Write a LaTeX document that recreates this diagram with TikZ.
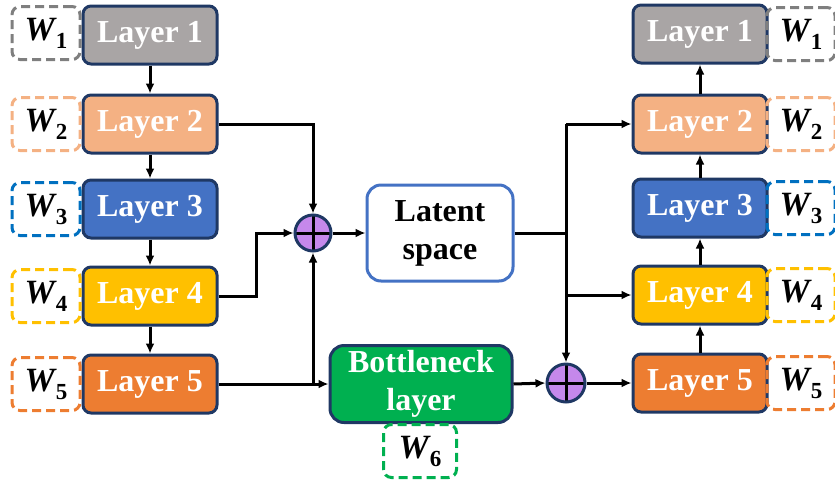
\documentclass[tikz,border=0pt]{standalone}
\usepackage{fontspec}
\setmainfont{Liberation Serif}
\usepackage{tikz}
\usetikzlibrary{shapes,arrows,arrows.meta,positioning}

\definecolor{navy}{HTML}{1F3864}
\definecolor{greyL}{HTML}{A9A5A5}
\definecolor{salmonL}{HTML}{F4B183}
\definecolor{blueL}{HTML}{4472C4}
\definecolor{goldL}{HTML}{FFC000}
\definecolor{orangeL}{HTML}{ED7D31}
\definecolor{greenL}{HTML}{00B050}
\definecolor{greyW}{HTML}{7F7F7F}
\definecolor{blueW}{HTML}{0070C0}
\definecolor{addfill}{HTML}{C588EB}

% weight label: bold italic W with a bold subscript
\newcommand{\wlab}[1]{{\bfseries\itshape W}\kern1pt\raisebox{-8pt}{\bfseries\fontsize{23}{23}\selectfont #1}}

\begin{document}
\begin{tikzpicture}[x=1pt,y=-1pt,>={Latex[length=10pt,width=9pt]},line width=3pt]
\tikzstyle{layer} = [rectangle, draw=navy, text=white, rounded corners=8pt, minimum width=134pt, minimum height=58pt, font=\fontsize{32}{38}\selectfont\bfseries]
\tikzstyle{wbox} = [rectangle, draw, dash pattern=on 9pt off 5pt, rounded corners=8pt, minimum width=68pt, minimum height=53pt, font=\fontsize{34}{38}\selectfont]
\tikzstyle{adder} = [circle, draw=navy, fill=addfill, minimum size=36pt, inner sep=0pt,
  path picture={\draw[black] (path picture bounding box.north) -- (path picture bounding box.south)
                (path picture bounding box.west) -- (path picture bounding box.east);}]
\tikzstyle{bigbox} = [rectangle, rounded corners=14pt, align=center, font=\fontsize{32}{38}\selectfont\bfseries]
\useasboundingbox (0,0) rectangle (835,480);

% encoder
\node[layer, fill=greyL]   (L1) at (150,35)  {Layer 1};
\node[layer, fill=salmonL] (L2) at (150,124) {Layer 2};
\node[layer, fill=blueL]   (L3) at (150,209) {Layer 3};
\node[layer, fill=goldL]   (L4) at (150,296) {Layer 4};
\node[layer, fill=orangeL] (L5) at (150,384) {Layer 5};
\node[wbox, draw=greyW]   (LW1) at (46,33)  {\wlab{1}};
\node[wbox, draw=salmonL] (LW2) at (46,124) {\wlab{2}};
\node[wbox, draw=blueW]   (LW3) at (46,209) {\wlab{3}};
\node[wbox, draw=goldL]   (LW4) at (46,296) {\wlab{4}};
\node[wbox, draw=orangeL] (LW5) at (46,384) {\wlab{5}};

% middle
\node[adder] (add1) at (313,233) {};
\node[bigbox, draw=blueL, fill=white, minimum width=146pt, minimum height=96pt] (lat) at (440,233) {Latent\\space};
\node[bigbox, draw=navy, fill=greenL, text=white, minimum width=182pt, minimum height=77pt] (bn) at (421,384) {Bottleneck\\layer};
\node[wbox, draw=greenL, minimum width=73pt] (W6) at (420,451) {\wlab{6}};
\node[adder, minimum size=38pt] (add2) at (566,383) {};

% decoder
\node[layer, fill=greyL]   (R1) at (700,34)  {Layer 1};
\node[layer, fill=salmonL] (R2) at (700,124) {Layer 2};
\node[layer, fill=blueL]   (R3) at (700,208) {Layer 3};
\node[layer, fill=goldL]   (R4) at (700,295) {Layer 4};
\node[layer, fill=orangeL] (R5) at (700,383) {Layer 5};
\node[wbox, draw=greyW]   (RW1) at (801,34)  {\wlab{1}};
\node[wbox, draw=salmonL] (RW2) at (801,124) {\wlab{2}};
\node[wbox, draw=blueW]   (RW3) at (801,208) {\wlab{3}};
\node[wbox, draw=goldL]   (RW4) at (801,295) {\wlab{4}};
\node[wbox, draw=orangeL] (RW5) at (801,383) {\wlab{5}};

\coordinate (k4) at (256,296);
\coordinate (split) at (566,124);

\path[->] (L1) edge (L2)
          (L2) edge (L3)
          (L3) edge (L4)
          (L4) edge (L5)
          (R5) edge (R4)
          (R4) edge (R3)
          (R3) edge (R2)
          (R2) edge (R1);
\draw[->] (L2.east) -| (add1.north);
\draw[->] (L4.east) -- (k4) |- (add1.west);
\draw[->] (L5.east) -- (bn.west);
\draw[->] (L5.east -| add1) -- (add1.south);
\draw[->] (add1.east) -- (lat.west);
\draw (lat.east) -- (lat.east -| add2);
\draw[->] (split) -- (R2.west);
\draw[->] (split) -- (add2.north);
\draw[->] (add2 |- R4) -- (R4.west);
\draw[->] (bn.east) -- (add2.west);
\draw[->] (add2.east) -- (R5.west);
\end{tikzpicture}
\end{document}
